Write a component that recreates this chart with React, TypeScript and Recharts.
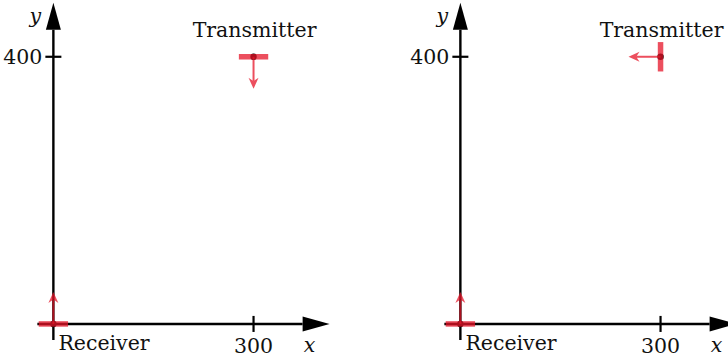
import React from "react";
import { ComposedChart, XAxis, YAxis, ReferenceLine, ReferenceDot } from "recharts";

// Scene geometry in plot units (both panels share the same frame).
const receiverAt = [0, 0];
const transmitterAt = [300, 400];
const xAxisSpan = [-24, 414];
const yAxisSpan = [-24, 481];
const xTicks = [300];
const yTicks = [400];
const tickHalf = 12;
const antennaHalf = 22;
const arrowLength = 48;

// Per panel: transmitter antenna orientation and the way its arrow points.
const panelAntenna = ["horizontal", "vertical"];
const panelArrowDir = [
  [0, -1],
  [-1, 0],
];
const receiverArrowDir = [0, 1];

const X_DOMAIN = [-80, 530];
const Y_DOMAIN = [-51, 485];
const PANEL_W = 407;
const PANEL_H = 358;

const FONT = "'DejaVu Serif', serif";
const FONT_SIZE = 20.5;
const RED = "rgba(230, 20, 40, 0.75)";

type Seg = { x1: number; y1: number; x2: number; y2: number };

function unit(p: Seg) {
  const dx = p.x2 - p.x1;
  const dy = p.y2 - p.y1;
  const len = Math.hypot(dx, dy) || 1;
  return { ux: dx / len, uy: dy / len, len };
}

// Plain black line with a filled triangular head (the coordinate axes).
const axisArrow = (p: any) => {
  const { ux, uy } = unit(p);
  const L = 27;
  const hw = 7.5;
  const bx = p.x2 - L * ux;
  const by = p.y2 - L * uy;
  const nx = -uy;
  const ny = ux;
  return (
    <g>
      <line x1={p.x1} y1={p.y1} x2={bx} y2={by} stroke="#000" strokeWidth={2.4} />
      <path
        d={`M${p.x2},${p.y2} L${bx + hw * nx},${by + hw * ny} L${bx - hw * nx},${by - hw * ny} Z`}
        fill="#000"
      />
    </g>
  );
};

const blackLine = (p: any) => (
  <line x1={p.x1} y1={p.y1} x2={p.x2} y2={p.y2} stroke="#000" strokeWidth={2.2} />
);

// Antenna: black position dot under a translucent red bar.
const antennaBar = (p: any) => {
  const cx = (p.x1 + p.x2) / 2;
  const cy = (p.y1 + p.y2) / 2;
  return (
    <g>
      <circle cx={cx} cy={cy} r={3.2} fill="#000" />
      <line x1={p.x1} y1={p.y1} x2={p.x2} y2={p.y2} stroke={RED} strokeWidth={5.5} />
    </g>
  );
};

// Thin red arrow with a stealth-style head.
const redArrow = (p: any) => {
  const { ux, uy } = unit(p);
  const L = 11;
  const hw = 5;
  const bx = p.x2 - L * ux;
  const by = p.y2 - L * uy;
  const mx = p.x2 - 0.7 * L * ux;
  const my = p.y2 - 0.7 * L * uy;
  const nx = -uy;
  const ny = ux;
  return (
    <g fill={RED} stroke="none">
      <line x1={p.x1} y1={p.y1} x2={mx} y2={my} stroke={RED} strokeWidth={2} />
      <path
        d={`M${p.x2},${p.y2} L${bx + hw * nx},${by + hw * ny} L${mx},${my} L${bx - hw * nx},${by - hw * ny} Z`}
      />
    </g>
  );
};

const textAt =
  (value: string, dx: number, dy: number, anchor: "start" | "middle" | "end", italic = false) =>
  (p: any) => (
    <text
      x={p.cx + dx}
      y={p.cy + dy}
      textAnchor={anchor}
      fontFamily={FONT}
      fontSize={FONT_SIZE}
      fontStyle={italic ? "italic" : "normal"}
      fill="#111"
    >
      {value}
    </text>
  );

function Panel({ index }: { index: number }) {
  const [tx, ty] = transmitterAt;
  const [rx, ry] = receiverAt;
  const horiz = panelAntenna[index] === "horizontal";
  const [adx, ady] = panelArrowDir[index];
  return (
    <ComposedChart
      width={PANEL_W}
      height={PANEL_H}
      data={[]}
      margin={{ top: 0, right: 0, bottom: 0, left: 0 }}
    >
      <XAxis type="number" dataKey="x" domain={X_DOMAIN} hide allowDataOverflow />
      <YAxis type="number" dataKey="y" domain={Y_DOMAIN} hide allowDataOverflow />

      {/* axes */}
      <ReferenceLine
        segment={[{ x: xAxisSpan[0], y: 0 }, { x: xAxisSpan[1], y: 0 }]}
        shape={axisArrow}
        ifOverflow="visible"
      />
      <ReferenceLine
        segment={[{ x: 0, y: yAxisSpan[0] }, { x: 0, y: yAxisSpan[1] }]}
        shape={axisArrow}
        ifOverflow="visible"
      />
      {xTicks.map((t) => (
        <ReferenceLine
          key={`xt${t}`}
          segment={[{ x: t, y: -tickHalf }, { x: t, y: tickHalf }]}
          shape={blackLine}
          ifOverflow="visible"
        />
      ))}
      {yTicks.map((t) => (
        <ReferenceLine
          key={`yt${t}`}
          segment={[{ x: -tickHalf, y: t }, { x: tickHalf, y: t }]}
          shape={blackLine}
          ifOverflow="visible"
        />
      ))}

      {/* receiver */}
      <ReferenceLine
        segment={[{ x: rx - antennaHalf, y: ry }, { x: rx + antennaHalf, y: ry }]}
        shape={antennaBar}
        ifOverflow="visible"
      />
      <ReferenceLine
        segment={[
          { x: rx, y: ry },
          { x: rx + receiverArrowDir[0] * arrowLength, y: ry + receiverArrowDir[1] * arrowLength },
        ]}
        shape={redArrow}
        ifOverflow="visible"
      />

      {/* transmitter */}
      <ReferenceLine
        segment={
          horiz
            ? [{ x: tx - antennaHalf, y: ty }, { x: tx + antennaHalf, y: ty }]
            : [{ x: tx, y: ty - antennaHalf }, { x: tx, y: ty + antennaHalf }]
        }
        shape={antennaBar}
        ifOverflow="visible"
      />
      <ReferenceLine
        segment={[
          { x: tx, y: ty },
          { x: tx + adx * arrowLength, y: ty + ady * arrowLength },
        ]}
        shape={redArrow}
        ifOverflow="visible"
      />

      {/* labels */}
      <ReferenceDot x={0} y={yAxisSpan[1]} r={0} shape={textAt("y", -18, 20, "middle", true)} ifOverflow="visible" />
      <ReferenceDot x={xAxisSpan[1]} y={0} r={0} shape={textAt("x", -20, 28, "middle", true)} ifOverflow="visible" />
      {yTicks.map((t) => (
        <ReferenceDot key={`yl${t}`} x={0} y={t} r={0} shape={textAt(String(t), -11, 7, "end")} ifOverflow="visible" />
      ))}
      {xTicks.map((t) => (
        <ReferenceDot key={`xl${t}`} x={t} y={0} r={0} shape={textAt(String(t), 0, 29, "middle")} ifOverflow="visible" />
      ))}
      <ReferenceDot x={tx} y={ty} r={0} shape={textAt("Transmitter", 1, -20, "middle")} ifOverflow="visible" />
      <ReferenceDot x={rx} y={ry} r={0} shape={textAt("Receiver", 5, 26, "start")} ifOverflow="visible" />
    </ComposedChart>
  );
}

export default function App() {
  return (
    <div
      style={{
        position: "absolute",
        left: 0,
        top: 0,
        width: 728,
        height: 358,
        overflow: "hidden",
        background: "#fff",
        display: "flex",
      }}
    >
      {panelAntenna.map((_, i) => (
        <div key={i} style={{ flex: "none", width: PANEL_W, height: PANEL_H }}>
          <Panel index={i} />
        </div>
      ))}
    </div>
  );
}
